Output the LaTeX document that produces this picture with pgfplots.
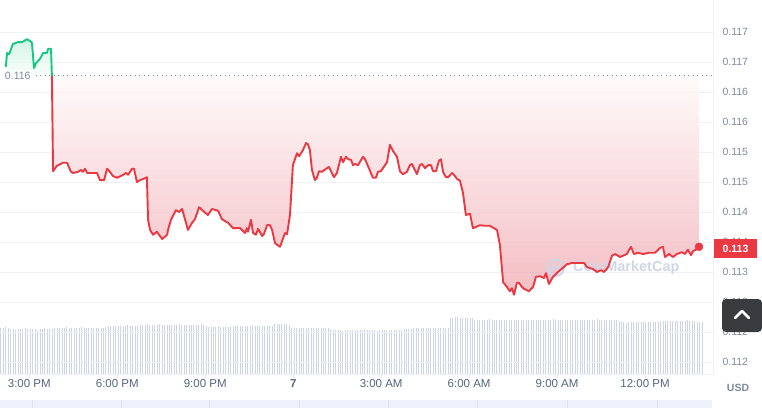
\documentclass[border=0pt]{standalone}
\usepackage{fontspec}
\setmainfont{Liberation Sans}
\usepackage{pgfplots}
\usepackage{pgfplotstable}
\pgfplotsset{compat=1.18}

\definecolor{upg}{HTML}{16C784}
\definecolor{dnr}{HTML}{EA3943}
\definecolor{gridc}{HTML}{EFF2F5}
\definecolor{lblc}{HTML}{808A9D}
\definecolor{xlblc}{HTML}{58667E}
\definecolor{volc}{HTML}{CDD4E3}
\definecolor{navc}{HTML}{EFF2FD}
\definecolor{navs}{HTML}{DDE2F2}
\definecolor{wmc}{HTML}{CFD6E5}
\definecolor{btnc}{HTML}{3A3B3F}
\definecolor{redtop}{RGB}{255,250,250}
\definecolor{redbot}{RGB}{242,178,185}
\definecolor{grntop}{RGB}{205,242,225}
\definecolor{grnbot}{RGB}{250,254,252}

% hours since 00:00 on the 6th, price in USD
\pgfplotstableread{
h v
14.20 0.11642
14.24 0.11665
14.31 0.11663
14.44 0.11680
14.61 0.11683
14.75 0.11683
14.92 0.11688
15.02 0.11685
15.09 0.11682
15.16 0.11640
15.23 0.11648
15.36 0.11655
15.47 0.11665
15.60 0.11665
15.64 0.11672
15.74 0.11672
15.77 0.11627
}\updata

\pgfplotstableread{
h v
15.77 0.11627
15.81 0.11468
15.94 0.11477
16.15 0.11482
16.29 0.11482
16.32 0.11478
16.42 0.11467
16.49 0.11465
16.66 0.11467
16.76 0.11470
16.83 0.11467
16.90 0.11472
16.97 0.11465
17.14 0.11465
17.31 0.11465
17.41 0.11453
17.55 0.11453
17.65 0.11472
17.75 0.11467
17.85 0.11460
17.99 0.11457
18.20 0.11462
18.30 0.11465
18.37 0.11462
18.50 0.11472
18.57 0.11472
18.67 0.11450
18.77 0.11453
18.88 0.11455
18.98 0.11457
19.01 0.11458
19.05 0.11387
19.12 0.11370
19.22 0.11362
19.35 0.11367
19.53 0.11355
19.70 0.11362
19.73 0.11370
19.83 0.11387
20.00 0.11403
20.11 0.11400
20.21 0.11405
20.31 0.11388
20.41 0.11370
20.55 0.11382
20.65 0.11388
20.79 0.11408
20.92 0.11402
21.09 0.11395
21.23 0.11405
21.44 0.11402
21.57 0.11388
21.67 0.11385
21.78 0.11382
21.95 0.11373
22.19 0.11373
22.36 0.11365
22.42 0.11373
22.46 0.11367
22.56 0.11387
22.63 0.11365
22.73 0.11362
22.80 0.11372
22.94 0.11360
23.00 0.11363
23.11 0.11378
23.21 0.11378
23.28 0.11370
23.38 0.11348
23.55 0.11342
23.72 0.11365
23.79 0.11363
23.89 0.11395
23.99 0.11478
24.13 0.11498
24.20 0.11493
24.33 0.11503
24.44 0.11515
24.50 0.11513
24.57 0.11503
24.64 0.11470
24.74 0.11453
24.81 0.11457
24.88 0.11468
24.98 0.11467
25.15 0.11473
25.22 0.11475
25.39 0.11458
25.49 0.11465
25.63 0.11492
25.70 0.11483
25.80 0.11492
25.87 0.11488
25.97 0.11487
26.04 0.11478
26.11 0.11480
26.21 0.11478
26.38 0.11492
26.45 0.11488
26.72 0.11457
26.82 0.11457
26.89 0.11467
26.99 0.11468
27.20 0.11483
27.30 0.11512
27.40 0.11502
27.54 0.11492
27.64 0.11468
27.74 0.11463
27.88 0.11467
27.98 0.11478
28.05 0.11480
28.22 0.11463
28.32 0.11478
28.39 0.11480
28.50 0.11473
28.60 0.11478
28.70 0.11478
28.77 0.11468
28.87 0.11468
28.97 0.11485
29.04 0.11488
29.11 0.11467
29.21 0.11458
29.28 0.11458
29.42 0.11465
29.48 0.11462
29.59 0.11455
29.69 0.11452
29.79 0.11432
29.89 0.11395
30.03 0.11397
30.13 0.11373
30.37 0.11378
30.54 0.11377
30.71 0.11377
30.95 0.11370
31.05 0.11345
31.16 0.11283
31.29 0.11275
31.39 0.11268
31.46 0.11273
31.53 0.11262
31.63 0.11282
31.70 0.11282
31.80 0.11275
31.87 0.11272
32.04 0.11268
32.18 0.11275
32.28 0.11292
32.42 0.11293
32.55 0.11290
32.62 0.11298
32.72 0.11280
32.86 0.11292
33.10 0.11303
33.34 0.11313
33.51 0.11315
33.65 0.11315
33.78 0.11315
33.92 0.11315
34.02 0.11308
34.22 0.11305
34.36 0.11300
34.50 0.11303
34.60 0.11300
34.74 0.11308
34.87 0.11327
34.98 0.11330
35.15 0.11325
35.38 0.11330
35.52 0.11342
35.62 0.11330
35.76 0.11332
35.93 0.11330
36.13 0.11332
36.34 0.11332
36.51 0.11340
36.61 0.11342
36.68 0.11325
36.82 0.11330
36.95 0.11325
37.09 0.11330
37.26 0.11333
37.36 0.11330
37.46 0.11337
37.57 0.11328
37.64 0.11335
37.77 0.11338
37.84 0.11342
}\downdata

\begin{document}
\begin{tikzpicture}
\path[use as bounding box] (0,0) rectangle (762pt,408pt);

% volume bars (5 min)
\begin{axis}[at={(0pt,34pt)}, anchor=south west, scale only axis,
  width=713pt, height=374pt, xmin=14, xmax=38.318, ymin=0, ymax=374, hide axis]
\addplot[ycomb, volc, line width=0.9pt, mark=none]
  table[row sep=\\, x expr={14.03+\coordindex/12}, y=v] {v\\
46\\46\\47\\46\\45\\45\\44\\45\\45\\45\\46\\45\\45\\45\\45\\44\\45\\45\\46\\45\\45\\45\\46\\46\\
46\\46\\46\\47\\46\\46\\46\\46\\46\\47\\46\\46\\46\\46\\46\\46\\46\\46\\46\\47\\48\\48\\48\\48\\
48\\48\\48\\48\\49\\48\\48\\48\\48\\49\\49\\49\\50\\49\\49\\49\\49\\50\\49\\49\\49\\49\\49\\49\\
49\\50\\49\\49\\49\\49\\49\\49\\49\\49\\50\\49\\48\\47\\47\\47\\47\\48\\47\\47\\47\\47\\47\\48\\
48\\48\\48\\48\\48\\48\\48\\49\\48\\48\\48\\48\\48\\48\\48\\48\\50\\50\\50\\50\\50\\50\\49\\46\\
46\\46\\46\\46\\46\\46\\46\\46\\46\\46\\46\\46\\46\\46\\46\\45\\44\\44\\44\\44\\43\\44\\44\\44\\
44\\43\\44\\44\\44\\44\\44\\44\\44\\44\\43\\44\\44\\44\\44\\44\\44\\44\\44\\44\\44\\45\\45\\45\\
45\\46\\46\\46\\46\\46\\46\\46\\46\\46\\46\\46\\46\\46\\46\\46\\56\\56\\57\\57\\56\\56\\56\\56\\
56\\56\\54\\54\\54\\54\\54\\54\\55\\54\\54\\54\\54\\54\\54\\54\\54\\54\\54\\54\\54\\54\\54\\54\\
54\\54\\54\\54\\54\\54\\54\\54\\54\\54\\55\\54\\54\\54\\54\\54\\54\\54\\54\\54\\54\\54\\54\\54\\
54\\54\\54\\54\\55\\54\\54\\54\\54\\54\\54\\54\\54\\53\\52\\52\\51\\52\\52\\52\\52\\52\\52\\52\\
52\\52\\52\\52\\52\\52\\53\\53\\53\\53\\53\\53\\53\\53\\53\\53\\53\\54\\53\\53\\53\\52\\52\\52\\
};
\end{axis}

% price
\begin{axis}[at={(0pt,34pt)}, anchor=south west, scale only axis,
  width=713pt, height=374pt,
  xmin=14, xmax=38.318, ymin=0.1113, ymax=0.117533,
  axis line style={draw=none}, tick style={draw=none},
  xtick={15,18,21,24,27,30,33,36},
  xticklabels={3:00 PM,6:00 PM,9:00 PM,\textbf{7},3:00 AM,6:00 AM,9:00 AM,12:00 PM},
  ytick={0.1115,0.112,0.1125,0.113,0.1135,0.114,0.1145,0.115,0.1155,0.116,0.1165,0.117},
  yticklabels={0.112,0.112,0.113,0.113,0.114,0.114,0.115,0.115,0.116,0.116,0.117,0.117},
  yticklabel pos=right,
  ymajorgrids, grid style={gridc, line width=0.8pt},
  yticklabel style={font=\fontsize{10.5pt}{12pt}\selectfont, text=lblc, anchor=west, xshift=6pt},
  xticklabel style={font=\fontsize{11.5pt}{13pt}\selectfont, text=xlblc, yshift=-2pt},
]
% area fills between the price and the opening price
\addplot[draw=none, top color=grntop, bottom color=grnbot, fill opacity=0.85, forget plot]
  table[x=h, y=v] {\updata} -- (axis cs:14.20,0.11627) -- cycle;
\addplot[draw=none, top color=redtop, bottom color=redbot, fill opacity=0.85, forget plot]
  table[x=h, y=v] {\downdata} -- (axis cs:37.84,0.11627) -- cycle;

% watermark
\node[text=wmc, font=\fontsize{14.5pt}{16pt}\selectfont\bfseries, anchor=west, inner sep=0pt]
  at (axis cs:33.54,0.11307) {CoinMarketCap};
\draw[wmc, line width=2.2pt] (axis cs:32.96,0.11307) circle[radius=8pt];
\draw[wmc, line width=1.8pt, line join=round]
  (axis cs:32.96,0.11307) ++(-5pt,-3pt) -- ++(2pt,5pt) -- ++(2.5pt,-5pt) -- ++(2.5pt,5pt) -- ++(2.5pt,-3pt);

% opening price line and label
\addplot[lblc, line width=0.9pt, dash pattern=on 0.9pt off 3.6pt, forget plot]
  coordinates {(15.22,0.11627)(38.318,0.11627)};
\node[anchor=west, text=lblc, font=\fontsize{10.5pt}{12pt}\selectfont]
  at (axis cs:14.05,0.11627) {0.116};

% price lines
\addplot[upg, line width=1.9pt, line join=round, mark=none] table[x=h, y=v] {\updata};
\addplot[dnr, line width=1.9pt, line join=round, mark=none] table[x=h, y=v] {\downdata};
\addplot[only marks, mark=*, mark size=4pt, dnr, forget plot] coordinates {(37.84,0.11342)};
\end{axis}

% frame, navigator and price badge (image pixel coordinates)
\begin{scope}[x=1pt, y=-1pt, shift={(0pt,408pt)}]
\draw[gridc, line width=0.8pt] (713,0) -- (713,374) -- (0,374);
\foreach \k in {0,...,7} \draw[gridc!80!gray!60, line width=0.8pt] ({29.3+87.96*\k},374) -- ++(0,4);
\fill[navc] (0,400) rectangle (712,408);
\foreach \s in {32,121,209,299,388,477,567,657} \draw[navs, line width=0.8pt] (\s,400) -- (\s,408);
\fill[dnr] (714,239) rectangle (757,258);
\node[text=white, font=\fontsize{10.5pt}{12pt}\selectfont\bfseries] at (735.5,248.5) {0.113};
\fill[btnc, rounded corners=4pt] (722,299) rectangle (762,332);
\draw[white, line width=2.6pt, line cap=round, line join=round] (735,318) -- (742,311) -- (749,318);
\node[text=lblc, font=\fontsize{10.5pt}{12pt}\selectfont\bfseries] at (738,388) {USD};
\end{scope}
\end{tikzpicture}
\end{document}
